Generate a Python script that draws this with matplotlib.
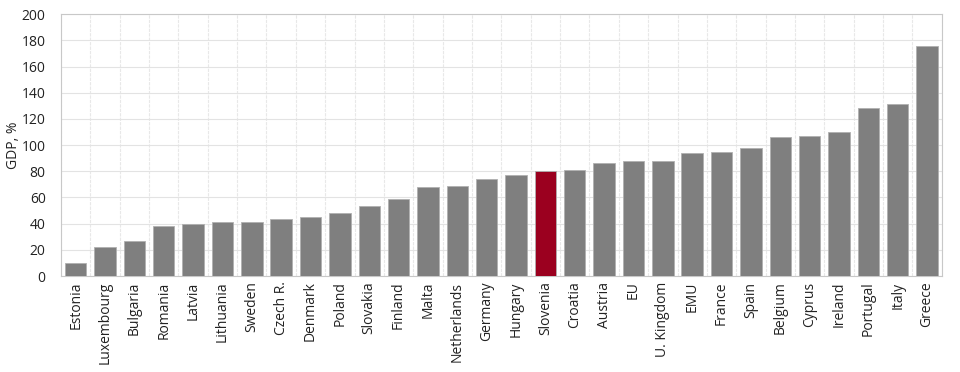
import matplotlib
matplotlib.use("Agg")
import matplotlib.pyplot as plt
import numpy as np

plt.rcParams["font.family"] = ["Open Sans", "DejaVu Sans"]

countries = ["Estonia", "Luxembourg", "Bulgaria", "Romania", "Latvia", "Lithuania",
             "Sweden", "Czech R.", "Denmark", "Poland", "Slovakia", "Finland", "Malta",
             "Netherlands", "Germany", "Hungary", "Slovenia", "Croatia", "Austria", "EU",
             "U. Kingdom", "EMU", "France", "Spain", "Belgium", "Cyprus", "Ireland",
             "Portugal", "Italy", "Greece"]
debt = [9.7, 22.4, 26.7, 38.2, 40.0, 41.0, 41.0, 43.8, 45.0, 48.0, 53.2, 58.5, 67.7,
        69.0, 73.8, 77.3, 80.4, 81.0, 86.5, 87.5, 88.0, 94.0, 95.0, 98.0, 106.0,
        107.0, 110.0, 128.0, 131.0, 175.6]
highlight = "Slovenia"

colors = ["#9b001f" if c == highlight else "#7f7f7f" for c in countries]

fig = plt.figure(figsize=(9.6, 3.72), dpi=100)
ax = fig.add_axes([0.0635, 0.258, 0.9175, 0.704])

x = np.arange(len(countries))
ax.bar(x, debt, width=0.73, color=colors, edgecolor="#b0b0b0", linewidth=0.6, zorder=3)

ax.set_xlim(-0.5, len(countries) - 0.5)
ax.set_ylim(0, 200)
ax.set_yticks(range(0, 201, 20))
ax.set_xticks(x)
ax.set_xticklabels(countries, rotation=90, fontsize=10, color="#222222")
ax.tick_params(axis="y", labelsize=10, colors="#222222", length=0, pad=11)
ax.tick_params(axis="x", length=0, pad=4)
ax.set_ylabel("GDP, %", fontsize=10, color="#222222")
ax.yaxis.set_label_coords(-0.045, 0.5)

ax.set_xticks(np.arange(len(countries) + 1) - 0.5, minor=True)
ax.tick_params(axis="x", which="minor", length=0)
ax.grid(axis="y", color="#e3e3e3", linewidth=0.8, zorder=0)
ax.grid(axis="x", which="minor", color="#e8e8e8", linewidth=0.8, linestyle=(0, (3, 1)), zorder=0)
ax.grid(axis="x", which="major", visible=False)

for s in ax.spines.values():
    s.set_color("#c8c8c8")
    s.set_linewidth(0.8)

fig.savefig("out.png", dpi=100)
